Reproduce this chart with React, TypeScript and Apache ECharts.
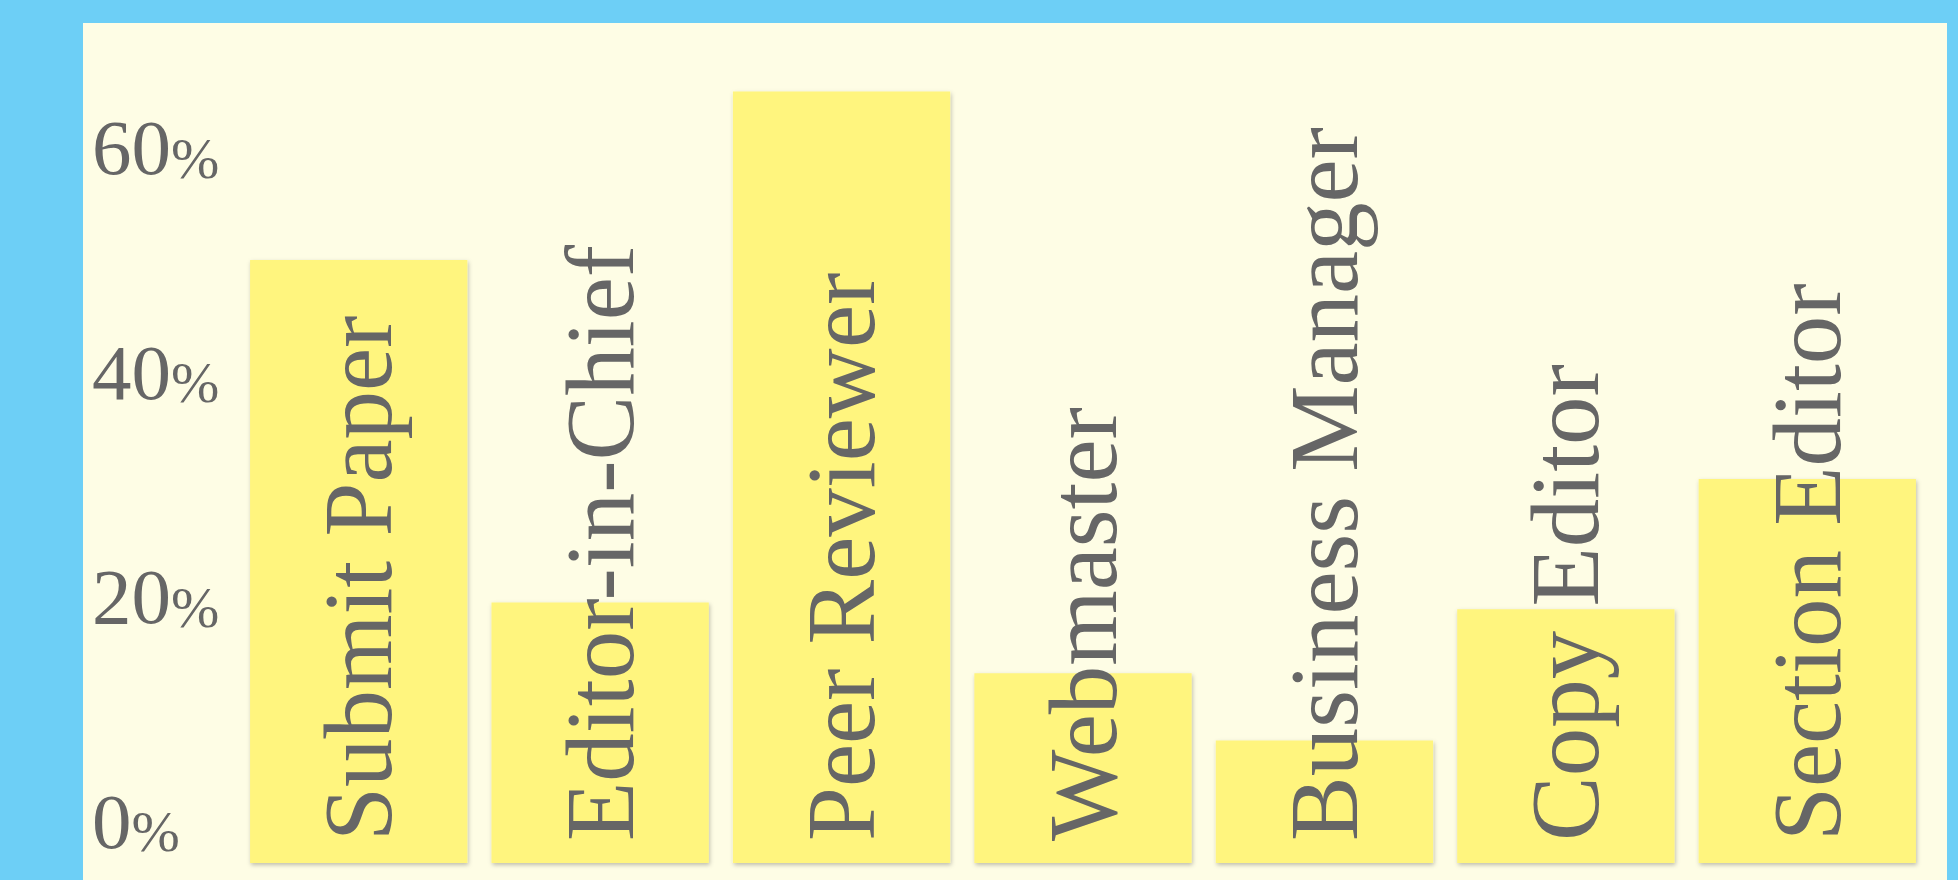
import React, { useEffect, useRef } from "react";
import * as echarts from "echarts";

const categories = [
  "Submit Paper",
  "Editor-in-Chief",
  "Peer Reviewer",
  "Webmaster",
  "Business Manager",
  "Copy Editor",
  "Section Editor",
];
const values = [50, 19.5, 65, 13.2, 7.2, 18.9, 30.5];
const tickValues = [0, 20, 40, 60];

const FONT = "'Liberation Serif', 'DejaVu Serif', serif";

export default function App() {
  const ref = useRef<HTMLDivElement>(null);
  useEffect(() => {
    if (!ref.current) return;
    const chart = echarts.init(ref.current, undefined, { renderer: "svg" });
    chart.setOption({
      animation: false,
      backgroundColor: "#6dcff6",
      graphic: [
        {
          type: "rect",
          z: -10,
          silent: true,
          shape: { x: 83, y: 23, width: 1864, height: 857 },
          style: { fill: "#fefde5" },
        },
      ],
      grid: { left: 238, right: 30, top: 23, bottom: 17 },
      xAxis: {
        type: "category",
        data: categories,
        axisLine: { show: false },
        axisTick: { show: false },
        axisLabel: { show: false },
        splitLine: { show: false },
      },
      yAxis: {
        type: "value",
        min: -3.7,
        max: 71.1,
        startValue: -3.7,
        axisLine: { show: false },
        axisTick: { show: false },
        splitLine: { show: false },
        axisLabel: {
          customValues: tickValues,
          formatter: (v: number) => "{n|" + v + "}{p|%}",
          align: "left",
          margin: 146,
          color: "#666666",
          fontFamily: FONT,
          rich: {
            n: { fontFamily: FONT, fontSize: 79, color: "#666666" },
            p: { fontFamily: FONT, fontSize: 58, color: "#666666", verticalAlign: "bottom" },
          },
        },
      },
      series: [
        {
          type: "bar",
          data: values,
          barWidth: "90%",
          itemStyle: {
            color: "#fff57e",
            shadowColor: "rgba(0,0,0,0.25)",
            shadowBlur: 4,
            shadowOffsetX: 1,
            shadowOffsetY: 2,
          },
          label: {
            show: true,
            formatter: "{b}",
            position: "insideBottom",
            rotate: 90,
            align: "left",
            verticalAlign: "middle",
            distance: 33,
            offset: [-11, 0],
            color: "#666666",
            fontFamily: FONT,
            fontSize: 97,
          },
        },
      ],
    });
    return () => chart.dispose();
  }, []);
  return (
    <div
      ref={ref}
      style={{ position: "fixed", left: 0, top: 0, width: 1958, height: 880 }}
    />
  );
}
